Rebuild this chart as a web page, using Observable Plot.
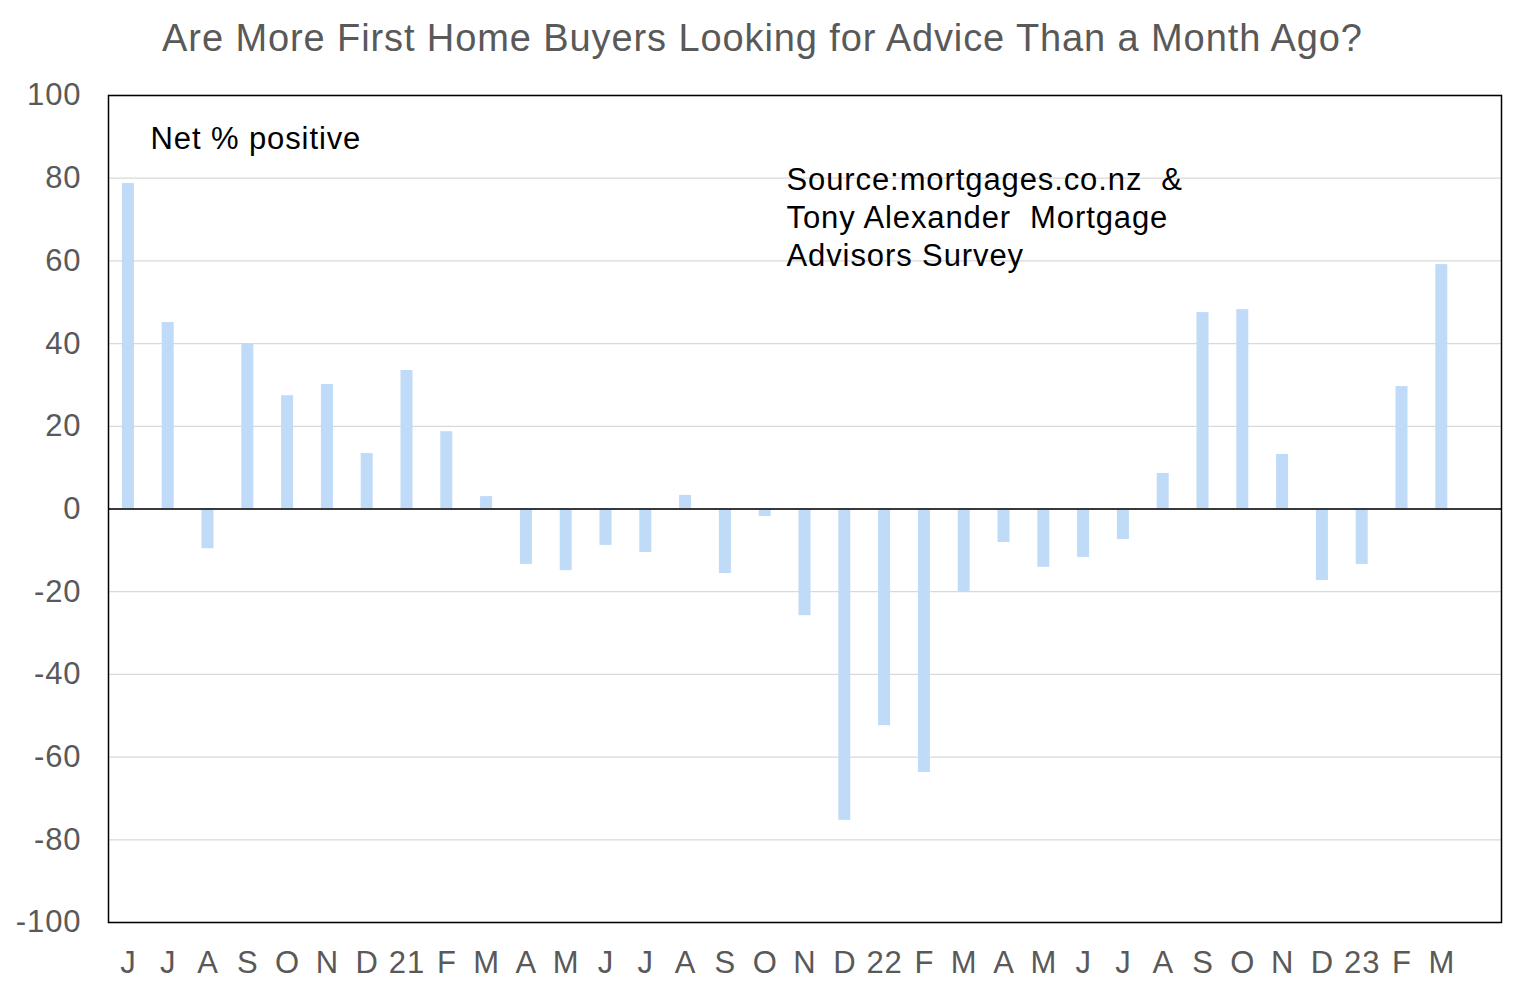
<!DOCTYPE html>
<html>
<head>
<meta charset="utf-8">
<script src="https://cdn.jsdelivr.net/npm/d3@7"></script>
<script src="https://cdn.jsdelivr.net/npm/@observablehq/plot@0.6"></script>
<style>
  html, body { margin: 0; padding: 0; background: #fff; }
  body { width: 1525px; height: 995px; overflow: hidden; font-family: "Liberation Sans", Arial, sans-serif; }
  #title { height: 75px; box-sizing: border-box; padding-top: 17px; text-align: center; font-size: 38px; letter-spacing: 0.9px; color: #595959; }
  #chart svg text { letter-spacing: 0.9px; }
</style>
</head>
<body>
<div id="title">Are More First Home Buyers Looking for Advice Than a Month Ago?</div>
<div id="chart"></div>
<script>
const monthLabels = ["J","J","A","S","O","N","D","21","F","M","A","M","J","J","A","S","O","N","D","22","F","M","A","M","J","J","A","S","O","N","D","23","F","M"];
const netPositive = [78.7, 45.1, -9.6, 40, 27.4, 30.1, 13.4, 33.5, 18.7, 3, -13.4, -14.9, -8.8, -10.5, 3.3, -15.6, -1.8, -25.8, -75.3, -52.4, -63.7, -20, -8.1, -14.1, -11.7, -7.4, 8.6, 47.5, 48.2, 13.2, -17.3, -13.4, 29.6, 59.1];
const yTicks = [-100, -80, -60, -40, -20, 0, 20, 40, 60, 80, 100];
const slots = d3.range(monthLabels.length + 1);

const data = netPositive.map((v, i) => ({i, v}));

const chart = Plot.plot({
  width: 1525,
  height: 920,
  marginTop: 20,
  marginBottom: 73,
  marginLeft: 108,
  marginRight: 24,
  style: { fontFamily: "Liberation Sans, Arial, sans-serif", background: "#fff" },
  x: { type: "band", domain: slots, padding: 0, round: false, label: null },
  y: { domain: [-100, 100], label: null },
  marks: [
    Plot.gridY(yTicks, { stroke: "#d9d9d9", strokeOpacity: 1, strokeWidth: 1.3 }),
    Plot.barY(data, { x: "i", y: "v", fill: "#bfdbf7", insetLeft: 13.9, insetRight: 13.9 }),
    Plot.ruleY([0], { stroke: "#000", strokeWidth: 1.5 }),
    Plot.frame({ stroke: "#000", strokeWidth: 1.5 }),
    Plot.axisY(yTicks, { tickSize: 0, tickPadding: 27, fontSize: 31, fill: "#595959", label: null, tickFormat: d => String(d) }),
    Plot.axisX(d3.range(monthLabels.length), { tickSize: 0, tickPadding: 28, fontSize: 31, fill: "#595959", label: null, tickFormat: i => monthLabels[i] }),
    Plot.text(["Net % positive"], { frameAnchor: "top-left", dx: 42, dy: 44, text: d => d, fontSize: 31, fill: "#000", textAnchor: "start", lineAnchor: "middle" }),
    Plot.text(["Source:mortgages.co.nz  &\nTony Alexander  Mortgage\nAdvisors Survey"], { frameAnchor: "top-left", dx: 678, dy: 67, text: d => d, fontSize: 31, fill: "#000", textAnchor: "start", lineAnchor: "top", lineHeight: 1.23 })
  ]
});
document.getElementById("chart").appendChild(chart);
</script>
</body>
</html>
